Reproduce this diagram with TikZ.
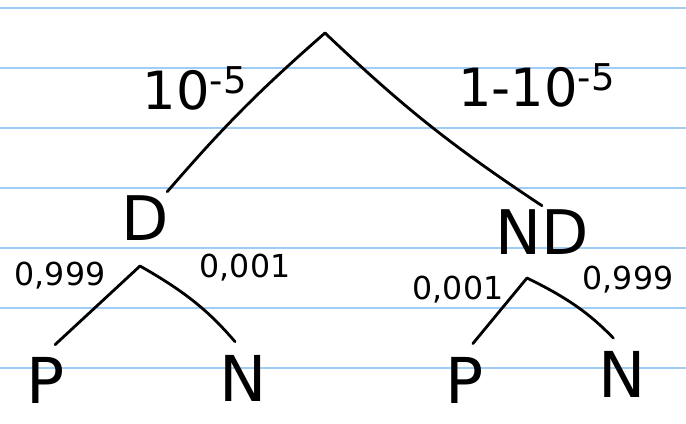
\documentclass[tikz,border=0pt]{standalone}
\usepackage{fontspec}
\setmainfont{DejaVu Sans}
\usetikzlibrary{positioning}
\definecolor{ruleblue}{RGB}{160,205,245}
\tikzset{
branchnode/.style={
    font=\fontsize{35}{35}\selectfont,
    inner sep=2pt
},
leaf/.style={
    font=\fontsize{36}{36}\selectfont,
    inner sep=2pt
},
prob/.style={
    font=\fontsize{18}{18}\selectfont,
    inner sep=0pt
},
edge/.style={
    line width=1.6pt,
    line cap=round
}
}

\begin{document}
\begin{tikzpicture}[x=0.02cm, y=-0.02cm]
\useasboundingbox (0,0) rectangle (686,423);

% RULED PAPER
\foreach \yy in {8,68,...,368}
    \draw[ruleblue, line width=1.2pt] (0,\yy) -- (686,\yy);

% TOP SPLIT
\coordinate (root) at (325,33);
\node[branchnode] (D) at (145,218) {D};
\node[branchnode] (ND) at (542,232) {ND};
\node[font=\fontsize{30}{30}\selectfont] (pd) at (195,88) {10\textsuperscript{-5}};
\node[font=\fontsize{30}{30}\selectfont] (pnd) at (537,85) {1-10\textsuperscript{-5}};

% LEFT SUBTREE
\coordinate (dsplit) at (140,266);
\node[leaf] (P1) at (46,380) {P};
\node[leaf] (N1) at (243,378) {N};
\node[prob] (p1) at (60,276) {0,999};
\node[prob] (n1) at (245,268) {0,001};

% RIGHT SUBTREE
\coordinate (ndsplit) at (527,278);
\node[leaf] (P2) at (465,380) {P};
\node[leaf] (N2) at (622,374) {N};
\node[prob] (p2) at (458,290) {0,001};
\node[prob] (n2) at (628,280) {0,999};

% CONNECTORS
\draw[edge] (root) to[bend right=4] (D);
\draw[edge] (root) to[bend right=5] (ND.north);
\draw[edge, shorten >=7pt] (dsplit) -- (P1.north);
\draw[edge, shorten >=7pt] (dsplit) to[bend left=10] (N1.north);
\draw[edge, shorten >=7pt] (ndsplit) -- (P2.north);
\draw[edge, shorten >=7pt] (ndsplit) to[bend left=10] (N2.north);

\end{tikzpicture}
\end{document}
